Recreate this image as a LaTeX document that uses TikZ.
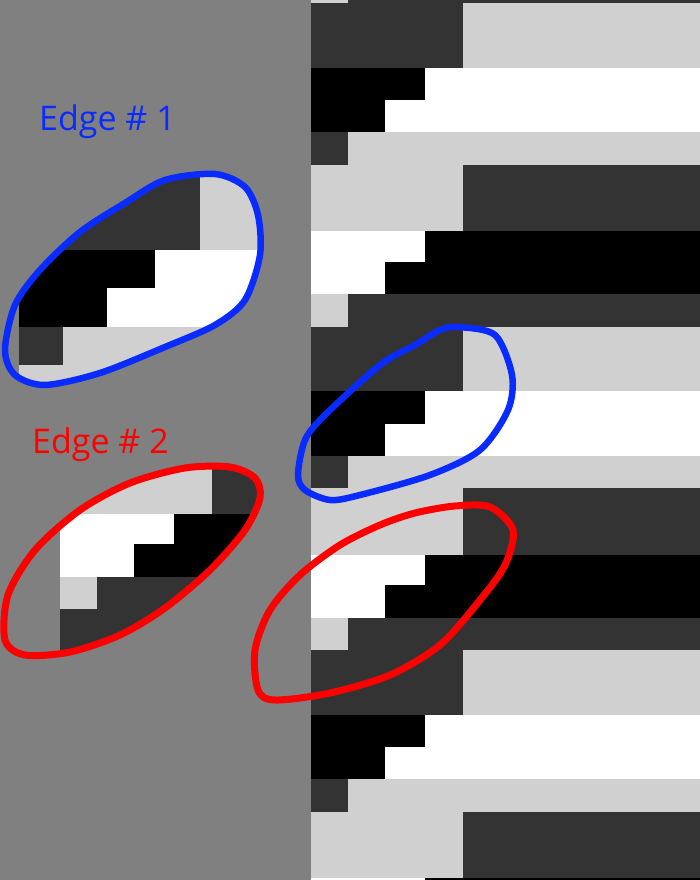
\documentclass[tikz,border=0pt]{standalone}
\usepackage{fontspec}
\setmainfont{Open Sans}
\definecolor{bgg}{HTML}{808080}
\definecolor{dk}{HTML}{333333}
\definecolor{lt}{HTML}{D0D0D0}
\definecolor{pblue}{HTML}{0A2BFF}
\definecolor{pred}{HTML}{FF0000}
\newcommand{\drawstripes}{%
 \foreach \b in {-320.5,3,326.5,650}{%
  \fill[dk] (311,\b) rectangle (463,\b+64.7);
  \fill[lt] (463,\b) rectangle (700,\b+64.7);
  \fill[black] (311,\b+64.7) rectangle (425,\b+97.05);
  \fill[white] (425,\b+64.7) rectangle (700,\b+97.05);
  \fill[black] (311,\b+97.05) rectangle (385,\b+129.4);
  \fill[white] (385,\b+97.05) rectangle (700,\b+129.4);
  \fill[dk] (311,\b+129.4) rectangle (348,\b+161.75);
  \fill[lt] (348,\b+129.4) rectangle (700,\b+161.75);
  \fill[lt] (311,\b+161.75) rectangle (463,\b+230);
  \fill[dk] (463,\b+161.75) rectangle (700,\b+230);
  \fill[white] (311,\b+228) rectangle (425,\b+258.8);
  \fill[black] (425,\b+228) rectangle (700,\b+258.8);
  \fill[white] (311,\b+258.8) rectangle (385,\b+291.15);
  \fill[black] (385,\b+258.8) rectangle (700,\b+291.15);
  \fill[lt] (311,\b+291.15) rectangle (348,\b+323.5);
  \fill[dk] (348,\b+291.15) rectangle (700,\b+323.5);
 }}
\tikzset{
  loopblue/.style={draw=pblue, line width=6.5pt, line join=round},
  loopred/.style={draw=pred, line width=7pt, line join=round},
  lbl/.style={inner sep=0pt, anchor=base west, font=\fontsize{34}{37}\selectfont}
}
\begin{document}
\begin{tikzpicture}[x=1pt,y=-1pt]
\useasboundingbox (0,0) rectangle (700,880);
\clip (0,0) rectangle (700,880);
\fill[bgg] (0,0) rectangle (700,880);
\drawstripes
% blue patch (zoomed copy)
\begin{scope}
  \clip plot[smooth cycle] coordinates {(215,174) (245,187) (258,215) (260,255) (245,300) (215,325) (165,347) (100,373) (45,385) (15,375) (5,350) (15,305) (40,270) (80,232) (125,203) (165,180)};
  \begin{scope}[shift={(-351.1,169.43)}, scale=1.19]
    \drawstripes
  \end{scope}
\end{scope}
% red patch (shifted copy)
\begin{scope}
  \clip plot[smooth cycle] coordinates {(230,467) (255,478) (260,498) (245,530) (210,570) (165,608) (120,635) (70,652) (25,655) (5,640) (8,595) (35,550) (80,510) (130,483) (185,468)};
  \begin{scope}[shift={(-251,-41)}]
    \drawstripes
  \end{scope}
\end{scope}
% loops
\draw[loopblue] plot[smooth cycle] coordinates {(215,174) (245,187) (258,215) (260,255) (245,300) (215,325) (165,347) (100,373) (45,385) (15,375) (5,350) (15,305) (40,270) (80,232) (125,203) (165,180)};
\draw[loopred] plot[smooth cycle] coordinates {(230,467) (255,478) (260,498) (245,530) (210,570) (165,608) (120,635) (70,652) (25,655) (5,640) (8,595) (35,550) (80,510) (130,483) (185,468)};
\draw[loopblue] plot[smooth cycle] coordinates {(458,327) (495,335) (512,375) (508,410) (480,450) (430,475) (360,495) (330,500) (305,490) (298,475) (305,440) (325,415) (380,365) (415,345) (440,330)};
\draw[loopred] plot[smooth cycle] coordinates {(455,506) (490,507) (513,530) (505,565) (480,600) (440,645) (390,675) (330,693) (275,700) (258,690) (255,650) (270,610) (300,575) (340,545) (380,525) (415,513)};
% labels
\node[lbl, text=pblue] (edge1) at (39,130) {Edge \# 1};
\node[lbl, text=pred] (edge2) at (32,453) {Edge \# 2};
\end{tikzpicture}
\end{document}
